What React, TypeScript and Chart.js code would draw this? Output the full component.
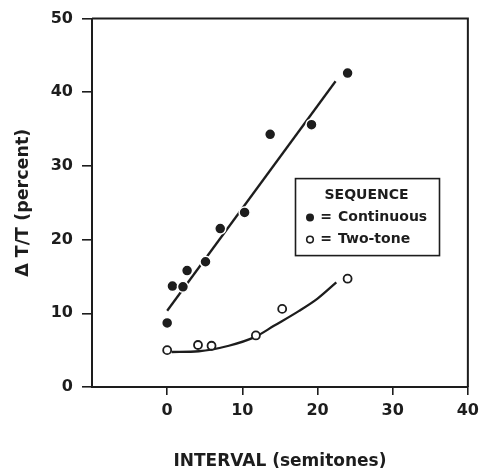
import { useEffect, useRef } from "react";
import { Chart, registerables } from "chart.js";

Chart.register(...registerables);

// Continuous sequence: measured thresholds
const continuousInterval = [0, 0.7, 2.1, 2.65, 5.1, 7.06, 10.3, 13.7, 19.2, 24];
const continuousThreshold = [8.7, 13.7, 13.6, 15.8, 17.0, 21.5, 23.7, 34.3, 35.6, 42.6];

// Two-tone sequence: measured thresholds
const twoToneInterval = [0, 4.1, 5.9, 11.8, 15.3, 24];
const twoToneThreshold = [5.0, 5.7, 5.6, 7.0, 10.6, 14.7];

// Fitted line for the continuous sequence
const continuousFitX = [0, 22.4];
const continuousFitY = [10.35, 41.5];

// Fitted curve for the two-tone sequence
const twoToneFitX = [0.6, 4.2, 8.2, 11.7, 14.2, 17.5, 20, 22.5];
const twoToneFitY = [4.75, 4.85, 5.6, 6.8, 8.3, 10.3, 12.0, 14.2];

const xTicks = [0, 10, 20, 30, 40];
const yTicks = [0, 10, 20, 30, 40, 50];

const legendTitle = "SEQUENCE";
const legendLabels = ["Continuous", "Two-tone"];

const INK = "#1d1d1d";
const FONT = "'DejaVu Sans', sans-serif";

const pts = (xs: number[], ys: number[]) => xs.map((x, i) => ({ x, y: ys[i] }));

const framePlugin = {
  id: "frameAndKey",
  afterDraw(chart: any) {
    const { ctx, chartArea } = chart;
    ctx.save();
    // top and right edges of the plot frame
    ctx.strokeStyle = INK;
    ctx.lineWidth = 2;
    ctx.beginPath();
    ctx.moveTo(chartArea.left, chartArea.top);
    ctx.lineTo(chartArea.right, chartArea.top);
    ctx.lineTo(chartArea.right, chartArea.bottom);
    ctx.stroke();

    // key box
    const bx = chartArea.left + 203.5;
    const by = chartArea.top + 160;
    const bw = 144;
    const bh = 77;
    ctx.fillStyle = "#fff";
    ctx.fillRect(bx, by, bw, bh);
    ctx.lineWidth = 1.6;
    ctx.strokeRect(bx, by, bw, bh);

    ctx.fillStyle = INK;
    ctx.font = `bold 14px ${FONT}`;
    ctx.textBaseline = "middle";
    ctx.textAlign = "center";
    ctx.fillText(legendTitle, bx + 71, by + 17);

    const rows = [by + 39, by + 61];
    rows.forEach((ry, i) => {
      ctx.beginPath();
      ctx.arc(bx + 14.5, ry, i === 0 ? 4 : 3.3, 0, Math.PI * 2);
      if (i === 0) {
        ctx.fillStyle = INK;
        ctx.fill();
      } else {
        ctx.fillStyle = "#fff";
        ctx.fill();
        ctx.lineWidth = 1.6;
        ctx.strokeStyle = INK;
        ctx.stroke();
      }
      ctx.fillStyle = INK;
      ctx.textAlign = "center";
      ctx.fillText("=", bx + 30.5, ry);
      ctx.textAlign = "left";
      ctx.fillText(legendLabels[i], bx + 42.5, ry);
    });
    ctx.restore();
  },
};

export default function App() {
  const canvasRef = useRef<HTMLCanvasElement | null>(null);

  useEffect(() => {
    const canvas = canvasRef.current;
    if (!canvas) return;
    const chart = new Chart(canvas, {
      type: "scatter",
      data: {
        datasets: [
          {
            label: legendLabels[0],
            data: pts(continuousInterval, continuousThreshold),
            pointRadius: 5.5,
            pointBackgroundColor: INK,
            pointBorderColor: "#fff",
            pointBorderWidth: 1.5,
            showLine: false,
          },
          {
            label: legendLabels[1],
            data: pts(twoToneInterval, twoToneThreshold),
            pointRadius: 4,
            pointBackgroundColor: "#fff",
            pointBorderColor: INK,
            pointBorderWidth: 1.8,
            showLine: false,
          },
          {
            label: "continuous fit",
            data: pts(continuousFitX, continuousFitY),
            showLine: true,
            borderColor: INK,
            borderWidth: 2.3,
            pointRadius: 0,
          },
          {
            label: "two-tone fit",
            data: pts(twoToneFitX, twoToneFitY),
            showLine: true,
            borderColor: INK,
            borderWidth: 2.3,
            pointRadius: 0,
            cubicInterpolationMode: "monotone",
          },
        ],
      },
      options: {
        animation: false,
        responsive: false,
        layout: { padding: { top: 15, right: 15, left: 0, bottom: 0 } },
        plugins: {
          legend: { display: false },
          tooltip: { enabled: false },
        },
        scales: {
          x: {
            type: "linear",
            min: -10,
            max: 40,
            afterFit: (scale: any) => {
              scale.height = 88;
            },
            afterBuildTicks: (scale: any) => {
              scale.ticks = xTicks.map((value) => ({ value }));
            },
            border: { display: true, color: INK, width: 2 },
            grid: {
              drawOnChartArea: false,
              drawTicks: true,
              tickLength: 8,
              color: INK,
              lineWidth: 1.6,
            },
            ticks: {
              color: INK,
              padding: 6,
              font: { family: FONT, size: 16, weight: "bold" },
            },
            title: {
              display: true,
              text: "INTERVAL (semitones)",
              color: INK,
              font: { family: FONT, size: 17, weight: "bold" },
              padding: { top: 0, bottom: 3 },
            },
          },
          y: {
            type: "linear",
            min: 0,
            max: 50,
            afterFit: (scale: any) => {
              scale.width = 92;
            },
            afterBuildTicks: (scale: any) => {
              scale.ticks = yTicks.map((value) => ({ value }));
            },
            border: { display: true, color: INK, width: 2 },
            grid: {
              drawOnChartArea: false,
              drawTicks: true,
              tickLength: 10,
              color: INK,
              lineWidth: 1.6,
            },
            ticks: {
              color: INK,
              padding: 9,
              font: { family: FONT, size: 16, weight: "bold" },
            },
            title: {
              display: true,
              text: "\u0394 T/T (percent)",
              color: INK,
              font: { family: FONT, size: 17.5, weight: "bold" },
              padding: { top: 12.5, bottom: 0 },
            },
          },
        },
      },
      plugins: [framePlugin],
    });
    return () => chart.destroy();
  }, []);

  return (
    <div style={{ position: "absolute", left: 0, top: 0, width: 485, height: 475, background: "#fff" }}>
      <canvas ref={canvasRef} width={485} height={475} style={{ display: "block" }} />
    </div>
  );
}
